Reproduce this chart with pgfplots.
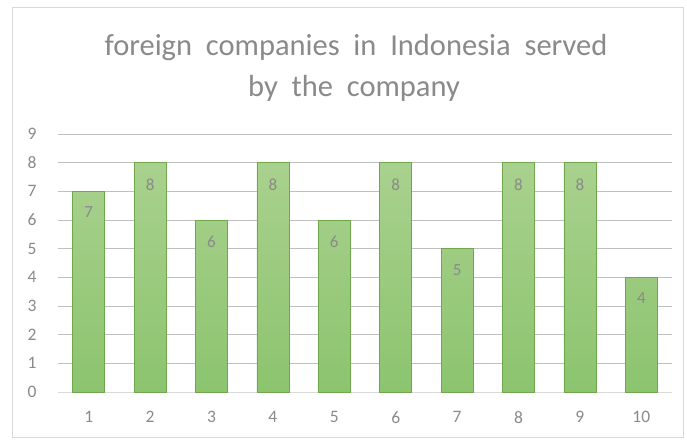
\documentclass[border=0pt]{standalone}
\usepackage{pgfplots}
\pgfplotsset{compat=1.18}
\usepackage{fontspec}
\setmainfont{Carlito}
\definecolor{txt}{HTML}{8A8A8A}
\definecolor{grid}{HTML}{D9D9D9}
\definecolor{bartop}{HTML}{A9D18E}
\definecolor{barbot}{HTML}{8CC46E}
\definecolor{barline}{HTML}{6FA84A}
\begin{document}
\begin{tikzpicture}[x=1pt,y=1pt]
\fill[white] (0,0) rectangle (687,441);
\draw[grid, line width=1pt] (12,3) rectangle (683,433);
\node[txt, font=\fontsize{30.5}{36}\selectfont] at (356,393) {foreign\ \ companies\ \ in\ \ Indonesia\ \ served};
\node[txt, font=\fontsize{30.5}{36}\selectfont] at (354,353) {by\ \ the\ \ company};
\begin{axis}[
  at={(58pt,49pt)}, anchor=south west,
  scale only axis, width=614pt, height=258pt,
  xmin=0.5, xmax=10.5, ymin=0, ymax=9,
  xtick={1,...,10}, ytick={0,...,9},
  xmajorgrids=false, ymajorgrids=true, grid style={grid, line width=1pt},
  axis line style={draw=none},
  xtick style={draw=none}, ytick style={draw=none},
  major tick length=0pt,
  ticklabel style={txt, font=\fontsize{17.5}{20}\selectfont},
  /pgf/number format/assume math mode=true,
  xticklabel style={yshift=-16pt},
  yticklabel style={xshift=-18pt},
  ybar, bar width=32pt,
  nodes near coords,
  every node near coord/.append style={txt, font=\fontsize{17}{20}\selectfont, anchor=north, yshift=-12pt},
  clip=false,
]
\draw[grid, line width=1pt] (axis cs:0.5,0) -- (axis cs:10.5,0);
\addplot[draw=barline, line width=0.8pt, top color=bartop, bottom color=barbot] coordinates {
(1,7) (2,8) (3,6) (4,8) (5,6) (6,8) (7,5) (8,8) (9,8) (10,4)};
\end{axis}
\end{tikzpicture}
\end{document}
